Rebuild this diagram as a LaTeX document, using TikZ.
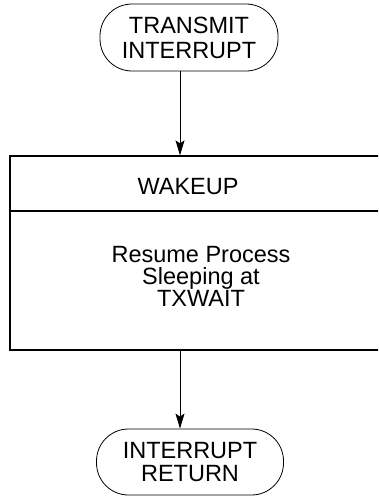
\documentclass[tikz,border=0pt]{standalone}
\usepackage{fontspec}
\setmainfont{Liberation Sans}
\usetikzlibrary{arrows.meta}
\begin{document}
\begin{tikzpicture}[x=1pt,y=-1pt,
  term/.style={draw,line width=0.8pt,rounded corners=32pt,minimum height=67pt,inner sep=0pt,align=center},
  blk/.style={draw,line width=1.3pt,inner sep=0pt},
  lbl/.style={align=center,inner sep=0pt,font=\fontsize{23.5}{22}\selectfont},
  arr/.style={line width=0.9pt,-{Stealth[length=15pt,width=9pt,inset=3pt]}}]
\useasboundingbox (0,0) rectangle (378,497);
\clip (0,0) rectangle (378,497);
\node[term,minimum width=178pt,font=\fontsize{23.5}{25}\selectfont] (ti) at (189,37.5) {TRANSMIT\\INTERRUPT};
\node[blk,minimum width=400pt,minimum height=194pt] (box) at (210,253) {};
\coordinate (dl) at (10,211);
\coordinate (dr) at (410,211);
\draw[line width=1.3pt] (dl) -- (dr);
\node[lbl] (wk) at (188,187) {WAKEUP};
\node[lbl] (rs) at (201,276) {Resume Process\\Sleeping at\\TXWAIT};
\node[term,minimum width=187pt,minimum height=66pt,font=\fontsize{23.5}{22.5}\selectfont] (ri) at (190,462) {INTERRUPT\\RETURN};
\coordinate (ax) at (180,0);
\draw[arr] (ti.south -| ax) -- (box.north -| ax);
\draw[arr] (box.south -| ax) -- (ri.north -| ax);
\end{tikzpicture}
\end{document}
